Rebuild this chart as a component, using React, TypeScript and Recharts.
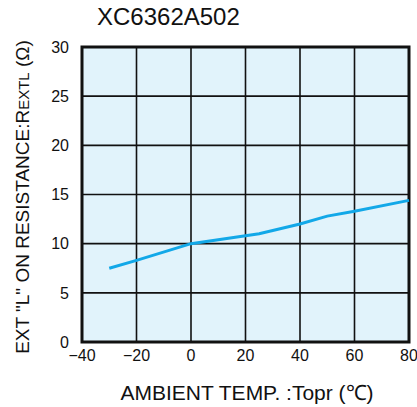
import React from "react";
import {
  LineChart,
  Line,
  XAxis,
  YAxis,
  CartesianGrid,
  ReferenceArea,
  Label,
} from "recharts";

const temps = [-30, -20, 0, 25, 40, 50, 60, 80];
const resistance = [7.5, 8.3, 10.0, 11.0, 12.0, 12.8, 13.3, 14.4];
const xTicks = [-40, -20, 0, 20, 40, 60, 80];
const yTicks = [0, 5, 10, 15, 20, 25, 30];
const title = "XC6362A502";
const xLabel = "AMBIENT TEMP. :Topr (\u2103)";

const data = temps.map((t, i) => ({ t, r: resistance[i] }));

const FONT = "'Liberation Sans', Arial, sans-serif";

const fmt = (v: number) => String(v).replace("-", "\u2212");

export default function App() {
  return (
    <div style={{ position: "absolute", left: 0, top: 0, width: 417, height: 407, background: "#fff" }}>
      <LineChart
        width={417}
        height={407}
        data={data}
        margin={{ top: 47, right: 8, bottom: 0, left: 0 }}
        style={{ fontFamily: FONT }}
      >
        <CartesianGrid
          stroke="#111"
          strokeWidth={1.6}
          fill="#e1f3fb"
          fillOpacity={1}
          horizontalValues={yTicks}
          verticalValues={xTicks}
        />
        <XAxis
          dataKey="t"
          type="number"
          domain={[-40, 80]}
          ticks={xTicks}
          tickFormatter={fmt}
          axisLine={false}
          tickLine={false}
          tickSize={0}
          tickMargin={8}
          height={65}
          tick={{ fill: "#111", fontSize: 16, fontFamily: FONT }}
          interval={0}
        >
          <Label
            content={() => (
              <text x={247} y={400} textAnchor="middle" fill="#111" fontSize={21} fontFamily={FONT}>
                {xLabel}
              </text>
            )}
          />
        </XAxis>
        <YAxis
          type="number"
          domain={[0, 30]}
          ticks={yTicks}
          axisLine={false}
          tickLine={false}
          tickSize={0}
          tickMargin={13}
          width={82}
          tick={{ fill: "#111", fontSize: 16, fontFamily: FONT }}
          interval={0}
        >
          <Label
            content={() => (
              <text
                x={0}
                y={0}
                transform="translate(29,197) rotate(-90)"
                textAnchor="middle"
                fill="#111"
                fontSize={19}
                fontFamily={FONT}
              >
                <tspan>EXT "L" ON RESISTANCE:R</tspan>
                <tspan fontSize={15}>EXTL</tspan>
                <tspan> (Ω)</tspan>
              </text>
            )}
          />
        </YAxis>
        <ReferenceArea
          x1={-40}
          x2={80}
          y1={0}
          y2={30}
          fill="none"
          stroke="#111"
          strokeWidth={3}
          ifOverflow="visible"
        />
        <Line
          dataKey="r"
          type="linear"
          stroke="#12a8e8"
          strokeWidth={3}
          dot={false}
          isAnimationActive={false}
        />
      </LineChart>
      <div
        style={{
          position: "absolute",
          left: 97,
          top: 2,
          fontFamily: FONT,
          fontSize: 24,
          color: "#111",
          lineHeight: "30px",
          whiteSpace: "nowrap",
        }}
      >
        {title}
      </div>
    </div>
  );
}
